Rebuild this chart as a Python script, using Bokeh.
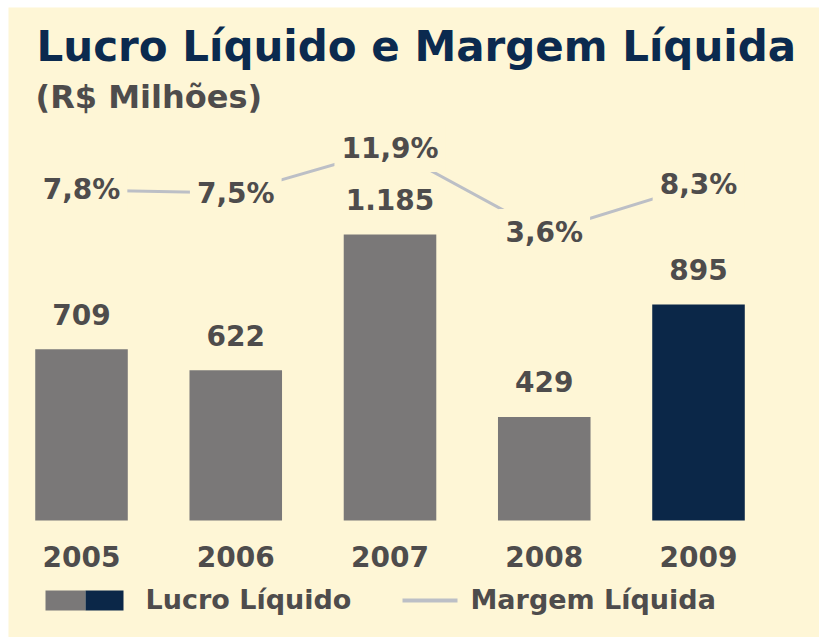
from bokeh.plotting import figure
from bokeh.models import Range1d, Label, BoxAnnotation, ColumnDataSource
from bokeh.core.properties import value
from bokeh.embed import file_html
from bokeh.resources import INLINE

# ---- data ----
anos = ["2005", "2006", "2007", "2008", "2009"]
lucro = [709, 622, 1185, 429, 895]          # R$ milhões
margem = [7.8, 7.5, 11.9, 3.6, 8.3]          # %
cores = ["#7a7878", "#7a7878", "#7a7878", "#7a7878", "#0b2748"]

titulo = "Lucro Líquido e Margem Líquida"
subtitulo = "(R$ Milhões)"
leg_lucro = "Lucro Líquido"
leg_margem = "Margem Líquida"

# ---- style ----
BG = "#fef6d6"
NAVY = "#0b2a4f"
TXT = "#4e4c4c"
LINE = "#bcbfc6"
FONT = "DejaVu Sans"
W, H = 819, 637
LEFT, TOP = 8, 7      # white strip outside the cream panel

def sy(y_top):
    # canvas y (from top) -> annotation screen units (from frame bottom, upwards)
    return H - y_top

def sx(x_left):
    return x_left - LEFT

idx = list(range(len(anos)))

p = figure(width=W, height=H,
           x_range=Range1d(-0.4733, 4.7844),
           y_range=Range1d(-484.8, 2125.5),
           output_backend="svg", toolbar_location=None,
           x_axis_location=None, y_axis_location=None,
           min_border_left=LEFT, min_border_right=0,
           min_border_top=TOP, min_border_bottom=0,
           background_fill_color=BG, border_fill_color="white", outline_line_color=None)
p.extra_y_ranges = {"margem": Range1d(-36.42, 25.83)}
p.xgrid.visible = False
p.ygrid.visible = False

src = ColumnDataSource(dict(
    idx=idx, ano=anos, lucro=lucro, cor=cores,
    lucro_txt=[f"{v:,}".replace(",", ".") for v in lucro],
    margem=margem,
    margem_txt=[f"{v:.1f}".replace(".", ",") + "%" for v in margem],
))

# bars + value labels
p.vbar(x="idx", top="lucro", width=0.6, fill_color="cor", line_color=None, source=src)
p.text(x="idx", y="lucro", text="lucro_txt", source=src, y_offset=-35,
       text_align="center", text_baseline="middle",
       text_font=value(FONT), text_font_style="bold", text_font_size="28px", text_color=TXT)

# category labels under the bars
p.text(x="idx", y=0, text="ano", source=src, y_offset=36,
       text_align="center", text_baseline="middle",
       text_font=value(FONT), text_font_style="bold", text_font_size="28px", text_color=TXT)

# net margin line + labels (labels mask the line around them)
p.line(x="idx", y="margem", source=src, y_range_name="margem", line_color=LINE, line_width=3)
p.text(x="idx", y="margem", text="margem_txt", source=src, y_range_name="margem",
       text_align="center", text_baseline="middle",
       text_font=value(FONT), text_font_style="bold", text_font_size="28px", text_color=TXT,
       background_fill_color=BG, padding=7)

# titles
p.add_layout(Label(x=sx(36), y=sy(46), x_units="screen", y_units="screen", text=titulo,
                   text_font=FONT, text_font_style="bold", text_font_size="42px",
                   text_color=NAVY, text_baseline="middle"))
p.add_layout(Label(x=sx(35), y=sy(96), x_units="screen", y_units="screen", text=subtitulo,
                   text_font=FONT, text_font_style="bold", text_font_size="32px",
                   text_color=TXT, text_baseline="middle"))

# legend (manual, to get the two-colour swatch)
def box(l, r, t, b, c):
    p.add_layout(BoxAnnotation(left=sx(l), right=sx(r), top=sy(t), bottom=sy(b),
                               left_units="screen", right_units="screen",
                               top_units="screen", bottom_units="screen",
                               fill_color=c, fill_alpha=1, line_color=None))

box(45, 85, 590, 610, cores[0])
box(85, 123, 590, 610, cores[-1])
p.add_layout(Label(x=sx(145), y=sy(599), x_units="screen", y_units="screen", text=leg_lucro,
                   text_font=FONT, text_font_style="bold", text_font_size="27px",
                   text_color=TXT, text_baseline="middle"))
box(402, 457, 598, 602, LINE)
p.add_layout(Label(x=sx(470), y=sy(599), x_units="screen", y_units="screen", text=leg_margem,
                   text_font=FONT, text_font_style="bold", text_font_size="27px",
                   text_color=TXT, text_baseline="middle"))

open("out.html", "w").write(file_html(p, INLINE))
